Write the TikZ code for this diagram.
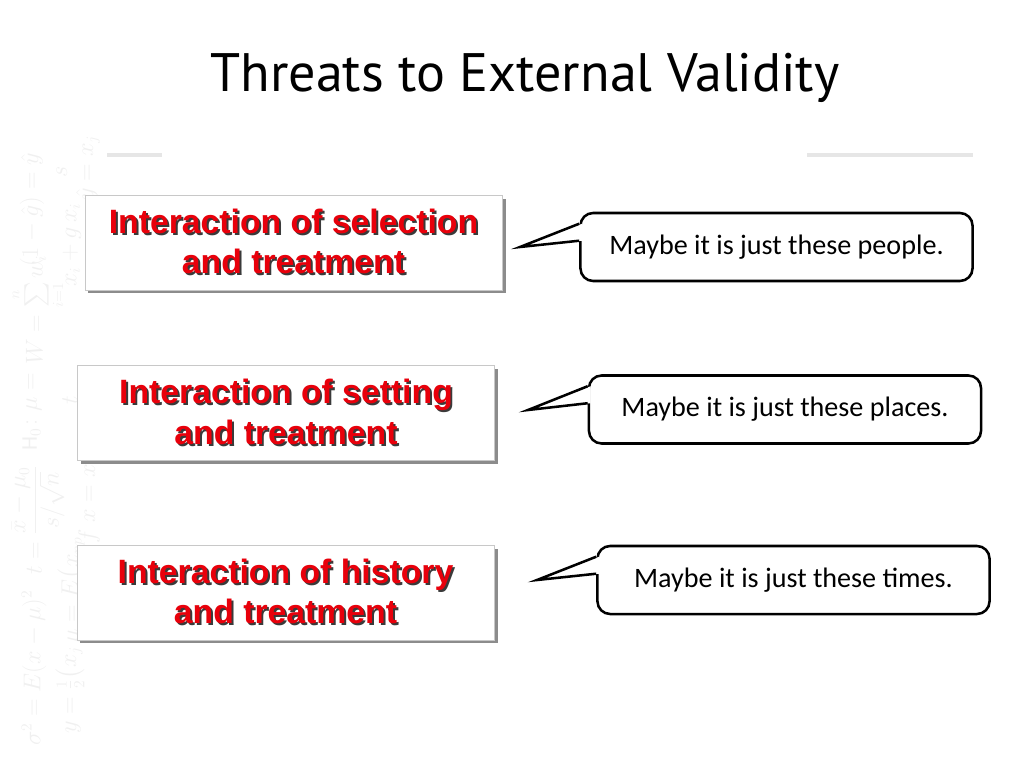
\documentclass[tikz,border=0pt]{standalone}
\usepackage{amsmath}
\usepackage{fontspec}
\setmainfont{Carlito}
\newfontfamily\titlefont{PT Sans}
\newfontfamily\boxfont{Liberation Sans}
\usetikzlibrary{positioning, calc, shadows}
\definecolor{thrred}{HTML}{E8000B}
\definecolor{thrshadow}{HTML}{3A3A3A}
\definecolor{thrframe}{HTML}{C8C8C8}
\definecolor{thrgray}{HTML}{E6E6E6}
\definecolor{thrmark}{HTML}{F0F0F0}
% red heading text with a dark offset copy behind it
\newcommand{\shtext}[1]{\makebox[0pt][l]{\kern1.4pt\raisebox{-1.4pt}{\color{thrshadow}#1}}#1}

\begin{document}
\begin{tikzpicture}[x=0.025cm, y=-0.025cm,
    threat/.style={draw=thrframe, fill=white, minimum width=10.43cm, minimum height=2.37cm,
                   font=\boxfont\bfseries\fontsize{24}{29}\selectfont, text=thrred, align=center,
                   drop shadow={shadow xshift=2.5pt, shadow yshift=-2.5pt, fill=black!45, opacity=1}},
    bubble/.style={draw, line width=1.8pt, rounded corners=9pt, fill=white,
                   minimum width=9.8cm, minimum height=1.7cm, font=\fontsize{20}{24}\selectfont},
    tail/.style={line width=1.8pt, line join=miter},
    formula/.style={text=thrmark, rotate=90, inner sep=0pt, font=\fontsize{16}{19}\selectfont},
    hrule/.style={thrgray, line width=3pt},
]
\useasboundingbox (0,0) rectangle (1024,768);

% faint formulas in the left margin
\node[formula] (m1) at (34, 668) {$\sigma^2 = E(x-\mu)^2$};
\node[formula] (m2) at (38, 520) {$t = \dfrac{\bar{x}-\mu_0}{s/\sqrt{n}}$};
\node[formula] (m3) at (32, 412) {$\mathrm{H}_0\colon \mu =$};
\node[formula] (m4) at (38, 310) {$W = \sum\limits_{i=1}^{n} w_i$};
\node[formula] (m5) at (32, 210) {$(1-\hat{g}) = \hat{y}$};
\node[formula] (m6) at (70, 690) {$y = \tfrac{1}{2}\big(x_j$};
\node[formula] (m7) at (72, 590) {$\mu = E\big(x_{np}$};
\node[formula] (m8) at (70, 400) {$t$};
\node[formula] (m9) at (72, 245) {$x_i + g\,x_i$};
\node[formula] (m10) at (62, 172) {$s$};
\node[formula] (m11) at (90, 500) {$f\;x = x_j$};
\node[formula] (m12) at (88, 168) {$\hat{y} = x_j$};

% title and rules
\node[font=\titlefont\fontsize{38.5}{46}\selectfont] (title) at (525, 78) {Threats to External Validity};
\draw[hrule] (107,155) coordinate (r1) -- (162,155) coordinate (r2);
\draw[hrule] (807,155) coordinate (r3) -- (973,155) coordinate (r4);

% threats
\node[threat] (sel) at (293.5, 242.5) {\shtext{Interaction of selection}\\ \shtext{and treatment}};
\node[threat] (set) at (286, 413) {\shtext{Interaction of setting}\\ \shtext{and treatment}};
\node[threat] (his) at (285.5, 592.5) {\shtext{Interaction of history}\\ \shtext{and treatment}};

% speech bubbles
\node[bubble] (people) at (776.5, 247) {Maybe it is just these people.};
\node[bubble] (places) at (785, 409.5) {Maybe it is just these places.};
\node[bubble] (times) at (793.5, 580) {Maybe it is just these times.};

\coordinate (tp1) at (520, 247);
\coordinate (tp2) at (528, 410);
\coordinate (tp3) at (537, 580);

\foreach \b/\t in {people/tp1, places/tp2, times/tp3} {
  \fill[white] ($(\b.north west)+(3,12)$) -- (\t) -- ($(\b.north west)+(3,29)$) -- cycle;
  \draw[tail] ($(\b.north west)+(0,12)$) -- (\t) -- ($(\b.north west)+(0,29)$);
}

\end{tikzpicture}
\end{document}
